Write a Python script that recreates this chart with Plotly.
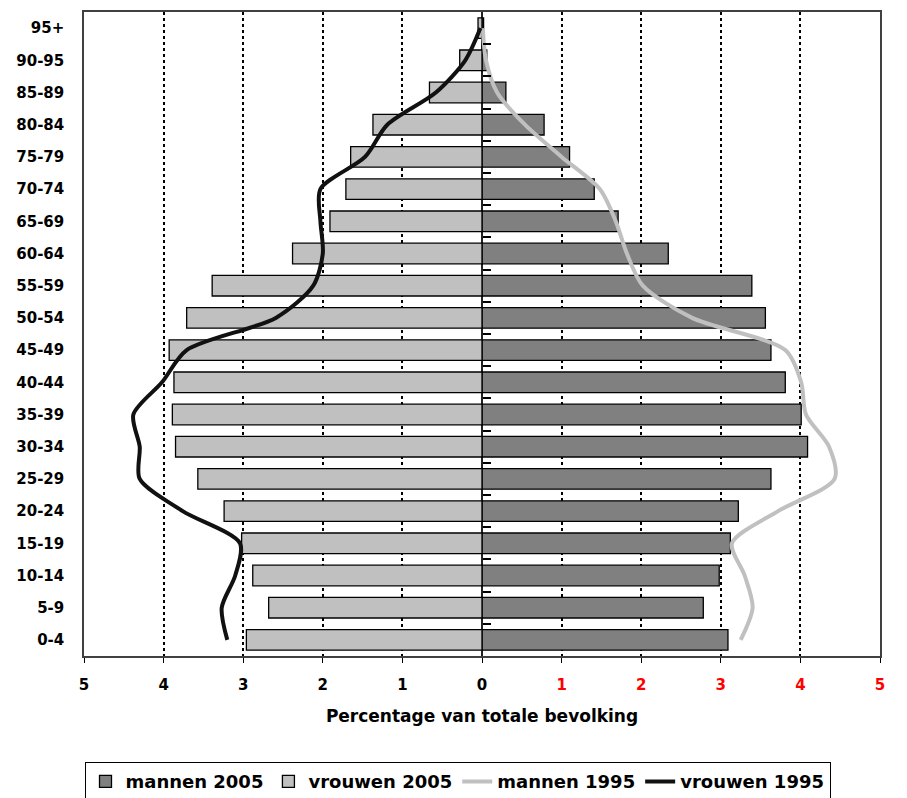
import plotly.graph_objects as go

# age groups, top of the pyramid first
AGE_GROUPS = [
    "95+", "90-95", "85-89", "80-84", "75-79", "70-74", "65-69", "60-64",
    "55-59", "50-54", "45-49", "40-44", "35-39", "30-34", "25-29", "20-24",
    "15-19", "10-14", "5-9", "0-4",
]

# percentage of total population
MEN_2005 = [0.02, 0.06, 0.30, 0.78, 1.10, 1.41, 1.71, 2.34, 3.39, 3.56,
            3.63, 3.81, 4.01, 4.09, 3.63, 3.22, 3.12, 2.98, 2.78, 3.09]
WOMEN_2005 = [0.05, 0.28, 0.66, 1.37, 1.65, 1.71, 1.91, 2.38, 3.39, 3.71,
              3.93, 3.87, 3.89, 3.85, 3.57, 3.24, 3.02, 2.88, 2.68, 2.96]
MEN_1995 = [0.01, 0.05, 0.19, 0.54, 1.00, 1.48, 1.68, 1.82, 2.02, 2.64,
            3.81, 4.01, 4.07, 4.36, 4.43, 3.72, 3.14, 3.30, 3.40, 3.25]
WOMEN_1995 = [0.02, 0.21, 0.58, 1.19, 1.47, 2.03, 2.03, 2.00, 2.12, 2.59,
              3.71, 4.02, 4.38, 4.30, 4.30, 3.76, 3.04, 3.10, 3.27, 3.20]

X_TICKS = [-5, -4, -3, -2, -1, 0, 1, 2, 3, 4, 5]
X_TICK_TEXT = ["5", "4", "3", "2", "1", "0"] + [
    f"<span style='color:#ff0000'>{v}</span>" for v in (1, 2, 3, 4, 5)
]

FONT = "DejaVu Sans, Arial, sans-serif"

fig = go.Figure()
fig.add_trace(
    go.Bar(
        y=AGE_GROUPS,
        x=MEN_2005,
        orientation="h",
        name="mannen 2005",
        marker={"color": "#808080", "line": {"color": "#000000", "width": 1.3}},
    )
)
fig.add_trace(
    go.Bar(
        y=AGE_GROUPS,
        x=[-v for v in WOMEN_2005],
        orientation="h",
        name="vrouwen 2005",
        marker={"color": "#c0c0c0", "line": {"color": "#000000", "width": 1.3}},
    )
)
fig.add_trace(
    go.Scatter(
        y=AGE_GROUPS,
        x=MEN_1995,
        mode="lines",
        name="mannen 1995",
        line={"color": "#c0c0c0", "width": 4, "shape": "spline", "smoothing": 0.8},
    )
)
fig.add_trace(
    go.Scatter(
        y=AGE_GROUPS,
        x=[-v for v in WOMEN_1995],
        mode="lines",
        name="vrouwen 1995",
        line={"color": "#111111", "width": 4, "shape": "spline", "smoothing": 0.8},
    )
)
# empty trace so the centre tick axis (category boundaries) is drawn
fig.add_trace(go.Scatter(x=[], y=[], yaxis="y2", showlegend=False, hoverinfo="skip"))

# the page adds an 8px body margin, so the figure is a bit smaller than the window
fig.update_layout(
    width=899,
    height=790,
    margin={"l": 76, "r": 27, "t": 4, "b": 142, "autoexpand": False},
    paper_bgcolor="#ffffff",
    plot_bgcolor="#ffffff",
    barmode="relative",
    bargap=0.36,
    font={"family": FONT, "size": 15, "color": "#000000", "weight": "bold"},
    showlegend=True,
    legend={
        "orientation": "h",
        "xref": "container",
        "x": 0.5,
        "xanchor": "center",
        "y": -0.165,
        "yanchor": "top",
        "bordercolor": "#000000",
        "borderwidth": 1,
        "font": {"size": 18, "family": FONT, "weight": "bold"},
        "traceorder": "normal",
    },
    xaxis={
        "automargin": False,
        "range": [-5, 5],
        "tickmode": "array",
        "tickvals": X_TICKS,
        "ticktext": X_TICK_TEXT,
        "ticks": "outside",
        "ticklen": 5,
        "tickcolor": "#000000",
        "ticklabelstandoff": 9,
        "tickfont": {"size": 15},
        "showgrid": True,
        "gridcolor": "#000000",
        "gridwidth": 1.5,
        "griddash": "dot",
        "zeroline": True,
        "zerolinecolor": "#222222",
        "zerolinewidth": 2,
        "showline": True,
        "linecolor": "#404040",
        "linewidth": 1.5,
        "mirror": True,
        "title": {"text": "Percentage van totale bevolking", "font": {"size": 17}, "standoff": 17},
        "fixedrange": True,
    },
    yaxis={
        "automargin": False,
        "categoryorder": "array",
        "categoryarray": list(reversed(AGE_GROUPS)),
        "range": [-0.5, len(AGE_GROUPS) - 0.5],
        "ticks": "",
        "ticklabelstandoff": 15,
        "tickfont": {"size": 15},
        "showgrid": False,
        "showline": True,
        "linecolor": "#404040",
        "linewidth": 1.5,
        "mirror": True,
        "fixedrange": True,
    },
    yaxis2={
        "automargin": False,
        "overlaying": "y",
        "anchor": "free",
        "position": 0.5,
        "side": "right",
        "range": [-0.5, len(AGE_GROUPS) - 0.5],
        "tickmode": "array",
        "tickvals": [i + 0.5 for i in range(len(AGE_GROUPS) - 1)],
        "ticks": "outside",
        "ticklen": 8,
        "tickwidth": 1.5,
        "tickcolor": "#000000",
        "showticklabels": False,
        "showgrid": False,
        "zeroline": False,
        "showline": False,
        "fixedrange": True,
    },
)

fig.write_html("out.html")
